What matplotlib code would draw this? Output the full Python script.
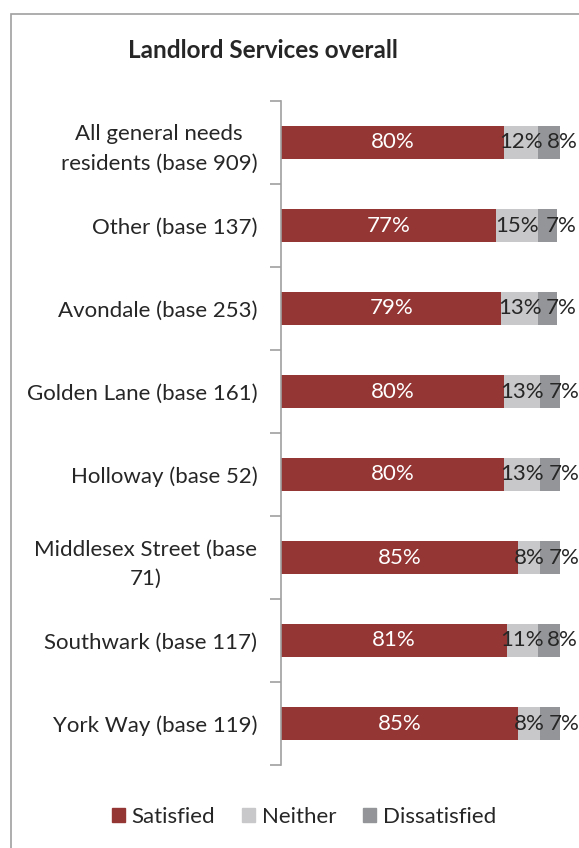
import matplotlib.pyplot as plt
from matplotlib.patches import Rectangle, Patch

categories = ['All general needs\nresidents (base 909)', 'Other (base 137)',
              'Avondale (base 253)', 'Golden Lane (base 161)',
              'Holloway (base 52)', 'Middlesex Street (base\n71)',
              'Southwark (base 117)', 'York Way (base 119)']
satisfied = [80, 77, 79, 80, 80, 85, 81, 85]
neither = [12, 15, 13, 13, 13, 8, 11, 8]
dissatisfied = [8, 7, 7, 7, 7, 7, 8, 7]

plt.rcParams['font.family'] = ['Lato', 'DejaVu Sans']

fig = plt.figure(figsize=(5.79, 8.48), dpi=100)
fig.patches.append(Rectangle((11 / 579, -0.1), 1.2, 1 - 14 / 848 + 0.1,
                             transform=fig.transFigure, fill=False,
                             edgecolor='#a0a0a0', linewidth=1.2))

ax = fig.add_axes([281 / 579, 1 - 765 / 848, (560 - 281) / 579, (765 - 101) / 848])

c_sat, c_nei, c_dis = '#943634', '#c8c8ca', '#939598'
txt = '#262626'
fs = 16
pos = list(range(len(categories)))
h = 0.4
ax.barh(pos, satisfied, height=h, color=c_sat)
left2 = satisfied
ax.barh(pos, neither, left=left2, height=h, color=c_nei)
left3 = [a + b for a, b in zip(satisfied, neither)]
ax.barh(pos, dissatisfied, left=left3, height=h, color=c_dis)

for i in pos:
    ax.text(satisfied[i] / 2, i, f'{satisfied[i]}%', ha='center', va='center',
            color='white', fontsize=fs)
    ax.text(left2[i] + neither[i] / 2, i, f'{neither[i]}%', ha='center', va='center',
            color=txt, fontsize=fs)
    # Excel nudges the last label to the right
    ax.text(left3[i] + dissatisfied[i] / 2 + 5, i, f'{dissatisfied[i]}%', ha='center',
            va='center', color=txt, fontsize=fs)

ax.set_xlim(0, 100)
ax.set_ylim(len(categories) - 0.5, -0.5)
ax.set_yticks(pos)
ax.set_yticklabels(categories, fontsize=fs, color=txt, multialignment='center',
                   linespacing=1.6)
ax.set_yticks([p - 0.5 for p in pos] + [len(categories) - 0.5], minor=True)
ax.tick_params(axis='y', which='major', length=0, pad=17)
ax.tick_params(axis='y', which='minor', length=8, color='#a0a0a0', width=1.2)
ax.set_xticks([])
for s in ['top', 'right', 'bottom']:
    ax.spines[s].set_visible(False)
ax.spines['left'].set_color('#a0a0a0')
ax.spines['left'].set_linewidth(1.2)

fig.text(263 / 579, 1 - 50 / 848, 'Landlord Services overall', ha='center', va='center',
         fontsize=17.5, fontweight='bold', color=txt)

handles = [Patch(color=c_sat, label='Satisfied'), Patch(color=c_nei, label='Neither'),
           Patch(color=c_dis, label='Dissatisfied')]
fig.legend(handles=handles, loc='center', bbox_to_anchor=(304 / 579, 1 - 817 / 848),
           ncol=3, frameon=False, fontsize=fs, handlelength=0.6, handleheight=0.6,
           handletextpad=0.3, columnspacing=1.2, labelcolor=txt)

fig.savefig('out.png', dpi=100)
